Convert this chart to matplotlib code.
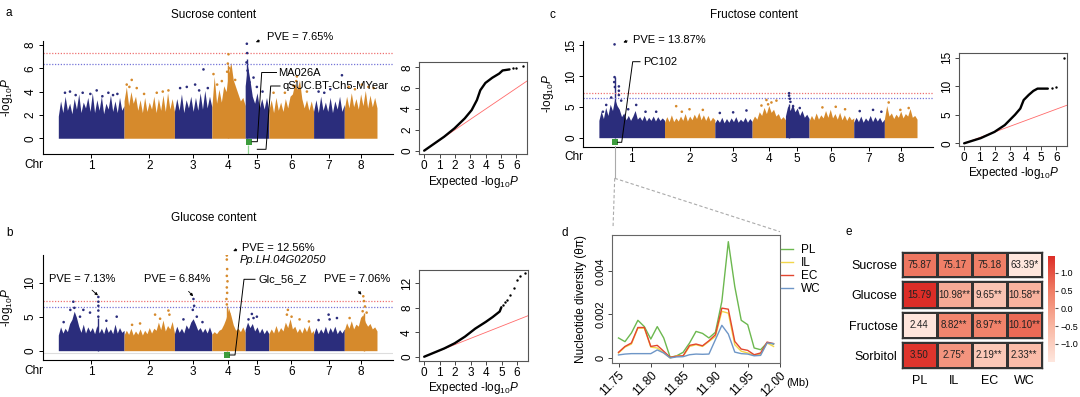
import numpy as np
import matplotlib
matplotlib.use('Agg')
import matplotlib.pyplot as plt
from matplotlib.colors import LinearSegmentedColormap, Normalize
from matplotlib.cm import ScalarMappable
from matplotlib.lines import Line2D
from matplotlib.patches import FancyArrowPatch

plt.rcParams['font.family'] = ['Liberation Sans', 'DejaVu Sans']
plt.rcParams['mathtext.fontset'] = 'custom'
plt.rcParams['mathtext.rm'] = 'Liberation Sans'
plt.rcParams['mathtext.it'] = 'Liberation Sans:italic'
plt.rcParams['axes.linewidth'] = 0.8

# ---- chromosomes (Mb) ----
chr_names = ['1', '2', '3', '4', '5', '6', '7', '8']
chr_len = np.array([49.25, 37.75, 28.0, 25.0, 17.75, 33.5, 23.0, 24.5])
chr_colors = ['#2b2d7c', '#d68a2c']

# upper edge of the dense SNP cloud, evenly spaced along each chromosome
sucrose_env = [
    [1.9, 3.2, 2.2, 3.6, 2.4, 3.0, 2.1, 3.4, 2.5, 3.8, 2.2, 3.1, 2.6, 3.5, 2.3, 3.9, 2.2, 3.3, 2.4, 3.6, 2.1, 3.0, 2.5, 3.7, 2.3, 3.2, 2.2, 3.5, 2.4, 2.8],
    [3.2, 4.4, 2.8, 4.0, 3.0, 3.6, 2.4, 3.3, 2.2, 3.5, 2.3, 3.1, 2.5, 3.6, 2.2, 3.4, 2.4, 3.7, 2.3, 3.9, 2.5, 3.4, 2.3],
    [2.3, 3.4, 2.4, 3.8, 2.2, 3.3, 2.6, 3.6, 2.3, 3.5, 2.4, 3.9, 2.5, 4.1, 2.6, 3.6, 2.7],
    [2.6, 5.3, 3.0, 4.2, 3.1, 4.5, 4.0, 5.6, 6.5, 5.0, 4.4, 3.8, 3.2, 3.5, 2.8],
    [4.5, 6.2, 5.0, 3.6, 3.0, 3.9, 2.6, 3.4, 2.5, 3.5, 2.4],
    [2.4, 3.3, 2.2, 3.5, 2.4, 3.1, 2.3, 3.4, 2.6, 3.6, 3.8, 4.7, 4.2, 5.0, 3.4, 2.6, 3.3, 2.4, 3.2, 2.3],
    [2.3, 3.3, 2.2, 3.6, 2.4, 3.1, 2.3, 3.5, 2.2, 3.2, 2.5, 3.6, 2.3, 2.9],
    [2.5, 3.6, 2.6, 3.9, 2.7, 3.4, 2.5, 3.8, 2.8, 4.1, 2.6, 3.7, 2.7, 3.5, 2.6],
]
glucose_env = [
    [2.3, 3.5, 2.6, 3.3, 2.8, 4.0, 4.6, 5.8, 4.9, 3.6, 2.7, 3.9, 2.6, 3.5, 2.8, 3.4, 2.5, 3.7, 2.6, 3.3, 2.5, 3.6, 2.7, 3.2, 2.5, 3.9, 2.6, 3.4, 2.7, 3.0],
    [2.3, 3.0, 2.4, 3.3, 2.3, 2.9, 2.4, 3.2, 2.3, 3.0, 2.5, 3.4, 2.6, 3.3, 3.0, 4.2, 3.1, 4.5, 2.9, 3.7, 3.2, 4.3, 2.6],
    [2.5, 3.6, 2.7, 3.3, 2.6, 3.8, 3.2, 4.2, 4.7, 3.9, 3.0, 3.4, 2.7, 3.3, 2.6, 3.5, 2.5],
    [2.4, 2.8, 2.5, 3.0, 3.2, 3.9, 4.8, 6.3, 5.2, 3.8, 3.0, 3.3, 2.8, 3.5, 2.7],
    [3.1, 4.2, 3.4, 4.0, 2.9, 3.5, 2.6, 3.3, 2.5, 3.1, 2.5],
    [2.5, 3.2, 2.6, 3.7, 2.7, 3.4, 2.9, 4.2, 3.4, 4.7, 3.2, 3.6, 2.7, 3.3, 2.6, 3.5, 2.8, 3.8, 2.6, 3.0],
    [2.4, 3.4, 2.5, 3.2, 2.6, 3.6, 2.5, 3.4, 2.7, 3.6, 2.5, 3.1, 2.6, 3.2],
    [3.0, 4.1, 3.3, 4.4, 3.2, 3.9, 3.6, 4.9, 5.3, 4.2, 3.6, 4.0, 3.2, 3.5, 2.9],
]
fructose_env = [
    [2.8, 4.3, 3.1, 4.9, 3.6, 5.4, 4.4, 6.3, 5.2, 4.6, 3.4, 4.0, 2.9, 3.6, 2.8, 3.5, 4.4, 3.0, 3.4, 2.8, 3.6, 2.7, 3.3, 2.8, 3.5, 2.7, 3.4, 2.8, 3.2, 2.8],
    [2.5, 3.4, 2.6, 3.7, 2.6, 3.2, 2.7, 3.5, 2.8, 3.9, 2.7, 3.5, 2.9, 3.8, 3.1, 4.1, 2.9, 3.7, 2.8, 3.6, 2.7, 3.3, 2.9],
    [2.4, 3.0, 2.5, 3.3, 2.4, 3.1, 2.5, 3.2, 2.6, 3.4, 2.5, 3.0, 2.6, 3.3, 2.5, 3.1, 2.6],
    [2.7, 3.5, 3.0, 4.2, 3.6, 4.9, 3.9, 5.2, 4.1, 4.6, 3.5, 3.9, 3.0, 3.4, 2.9],
    [3.5, 5.2, 4.4, 5.5, 4.2, 4.8, 3.6, 4.4, 3.3, 3.8, 3.1],
    [2.7, 3.6, 2.9, 4.0, 3.0, 3.7, 3.2, 4.4, 3.3, 4.6, 3.2, 3.9, 3.0, 4.1, 2.9, 3.7, 2.8, 3.5, 2.9, 3.2],
    [2.5, 3.3, 2.6, 3.5, 2.5, 3.2, 2.7, 3.6, 2.6, 3.4, 2.7, 3.3, 2.5, 3.0],
    [3.0, 5.2, 3.5, 4.0, 3.1, 3.8, 3.3, 4.3, 3.2, 3.9, 3.5, 4.7, 3.3, 3.6, 3.0],
]

# single SNPs above the cloud: (chr, Mb, -log10P)
sucrose_dots = [(1, 5.0, 3.9), (1, 8.75, 4.0), (1, 18.25, 3.9), (1, 28.75, 4.1), (1, 37.5, 3.9), (1, 44.25, 3.8),
                (1, 13.0, 3.7), (1, 24.0, 3.8), (1, 33.0, 3.6), (1, 41.0, 3.7),
                (2, 5.75, 5.0), (2, 4.0, 4.4), (2, 9.5, 4.3), (2, 24.5, 3.9), (2, 33.25, 4.1), (2, 2.0, 4.6),
                (2, 15.0, 3.8), (2, 29.0, 4.0),
                (3, 4.25, 4.3), (3, 15.5, 4.6), (3, 21.75, 5.9), (3, 9.25, 4.4), (3, 18.5, 4.1), (3, 25.0, 4.3),
                (4, 12.5, 7.2), (4, 12.0, 6.4), (4, 13.0, 6.0), (4, 1.25, 5.5), (4, 7.5, 4.9), (4, 17.5, 5.0),
                (4, 11.5, 5.7), (4, 14.0, 5.4), (4, 4.0, 4.6),
                (5, 1.25, 8.1), (5, 1.5, 7.3), (5, 1.0, 6.5), (5, 1.75, 5.8), (5, 6.25, 5.2), (5, 8.75, 4.4), (5, 3.25, 4.8),
                (5, 13.0, 4.0),
                (6, 21.0, 5.3), (6, 20.5, 4.9), (6, 3.5, 3.9), (6, 28.5, 4.0), (6, 12.0, 3.9), (6, 18.5, 4.5),
                (7, 21.25, 5.4), (7, 3.75, 4.0), (7, 12.5, 4.2), (7, 8.0, 3.9),
                (8, 3.25, 4.4), (8, 13.25, 4.6), (8, 22.0, 4.3), (8, 8.0, 4.2), (8, 18.0, 4.4)]
glucose_dots = [(1, 11.25, 7.2), (1, 12.0, 6.3), (1, 18.75, 6.0), (1, 23.75, 5.6), (1, 30.0, 7.9), (1, 30.0, 7.2),
                (1, 30.0, 6.6), (1, 30.0, 5.9), (1, 30.0, 5.0), (1, 43.75, 5.0), (1, 16.25, 5.0), (1, 9.0, 6.0),
                (1, 36.0, 4.4), (1, 4.0, 4.2),
                (2, 23.25, 5.3), (2, 33.25, 5.9), (2, 34.0, 5.3), (2, 12.0, 4.0), (2, 27.0, 4.7), (2, 6.0, 3.8),
                (3, 14.25, 7.6), (3, 14.75, 6.6), (3, 13.75, 6.0), (3, 16.75, 5.0), (3, 6.75, 4.6), (3, 21.0, 4.2),
                (4, 11.25, 14.0), (4, 11.25, 13.4), (4, 11.5, 12.0), (4, 11.25, 11.0), (4, 11.75, 10.2),
                (4, 11.25, 9.3), (4, 11.5, 8.5), (4, 11.0, 7.6), (4, 11.25, 6.8), (4, 13.0, 5.4),
                (5, 5.0, 5.4), (5, 8.75, 5.0), (5, 6.25, 4.8), (5, 2.5, 4.6),
                (6, 14.25, 6.0), (6, 13.5, 5.3), (6, 23.0, 4.6), (6, 17.0, 5.0), (6, 30.0, 4.3),
                (7, 11.25, 5.3), (7, 3.75, 4.5), (7, 17.5, 4.8), (7, 12.0, 4.6),
                (8, 14.25, 8.0), (8, 14.75, 7.3), (8, 15.5, 6.5), (8, 13.75, 5.8), (8, 16.75, 5.6), (8, 4.0, 4.8)]
fructose_dots = [(1, 11.75, 15.1), (1, 11.75, 9.8), (1, 11.5, 9.0), (1, 12.0, 8.2), (1, 15.0, 8.3), (1, 15.0, 7.6),
                 (1, 15.0, 6.9), (1, 9.25, 6.5), (1, 5.5, 5.3), (1, 3.0, 4.2), (1, 28.0, 5.3), (1, 43.0, 4.2),
                 (1, 16.75, 6.0), (1, 22.0, 4.6), (1, 35.0, 4.2),
                 (2, 8.75, 5.1), (2, 18.75, 4.6), (2, 28.75, 4.5), (2, 13.0, 4.2),
                 (3, 3.75, 4.0), (3, 13.75, 4.1), (3, 23.75, 4.4),
                 (4, 10.75, 6.1), (4, 14.5, 5.7), (4, 18.25, 6.0), (4, 7.0, 5.2), (4, 12.0, 5.4),
                 (5, 2.75, 7.2), (5, 2.75, 6.8), (5, 3.25, 6.3), (5, 3.75, 5.8), (5, 5.75, 5.1), (5, 10.75, 4.8),
                 (6, 10.0, 4.9), (6, 20.0, 5.0), (6, 27.0, 4.6),
                 (7, 4.5, 4.3), (7, 14.5, 4.5), (7, 20.75, 4.2),
                 (8, 3.25, 5.7), (8, 18.25, 4.8), (8, 12.0, 4.5)]
# dense peak columns: (chr, Mb, height)
sucrose_spikes = [(4, 12.5, 6.3), (5, 1.25, 6.8)]
glucose_spikes = [(4, 11.25, 6.5), (1, 30.0, 4.8), (8, 14.5, 5.5)]
fructose_spikes = [(1, 11.75, 9.8), (5, 3.0, 5.5)]
# QTL / marker squares: (chr, Mb, y)
sucrose_marks = [(5, 3.2, -0.3)]
glucose_marks = [(4, 11.25, -0.63)]
fructose_marks = [(1, 11.85, -0.76)]
thr_red, thr_blue = 7.3, 6.4

# ---- QQ curves ----
qq_a_exp = [0, 1.3, 1.97, 2.64, 3.09, 3.43, 3.65, 3.98, 4.43, 4.88, 5.1, 5.55]
qq_a_obs = [0, 1.34, 2.14, 3.1, 3.9, 4.86, 5.8, 6.5, 7.0, 7.4, 7.7, 7.8]
qq_a_tail_exp = [5.78, 6.0, 6.45]
qq_a_tail_obs = [7.9, 7.97, 8.13]
qq_b_exp = [0, 1.3, 1.97, 2.64, 3.3, 3.98, 4.43, 4.88, 4.99]
qq_b_obs = [0, 1.36, 2.2, 3.3, 4.6, 5.7, 6.5, 7.4, 8.1]
qq_b_tail_exp = [5.1, 5.2, 5.33, 5.55, 5.78, 6.0, 6.22, 6.49]
qq_b_tail_obs = [8.5, 8.9, 9.3, 10.1, 11.3, 12.5, 13.2, 13.7]
qq_c_exp = [0, 1.07, 1.97, 2.64, 3.3, 3.65, 3.87, 4.2, 4.5, 4.77, 5.44]
qq_c_obs = [0, 0.9, 2.0, 3.2, 5.0, 6.1, 7.6, 8.5, 9.2, 9.6, 9.6]
qq_c_tail_exp = [5.7, 6.0, 6.49]
qq_c_tail_obs = [9.65, 9.8, 15.06]

# ---- nucleotide diversity ----
pi_pos = [11.75, 11.76, 11.77, 11.78, 11.79, 11.80, 11.81, 11.82, 11.83, 11.84, 11.85, 11.86, 11.87,
          11.88, 11.89, 11.90, 11.91, 11.92, 11.93, 11.94, 11.95, 11.96, 11.97, 11.98, 11.99]
pi_PL = [0.00092, 0.00075, 0.00115, 0.00173, 0.00144, 0.00087, 0.00144, 0.00092, 0.00003, 0.0001, 0.00026, 0.00069,
         0.00122, 0.00113, 0.00092, 0.00118, 0.0026, 0.00534, 0.00328, 0.00173, 0.00153, 0.00046, 0.00038, 0.00069, 0.00064]
pi_IL = [0.00023, 0.0005, 0.00064, 0.00137, 0.00137, 0.0005, 0.00046, 0.00023, 0.0, 0.0001, 0.00008, 0.00053,
         0.00061, 0.00053, 0.00076, 0.00099, 0.00214, 0.00206, 0.00061, 0.00031, 0.00023, 0.00012, 0.00018, 0.00069, 0.00053]
pi_EC = [0.00026, 0.00053, 0.00069, 0.0014, 0.0014, 0.00053, 0.00058, 0.00031, 0.00003, 0.00008, 0.0001, 0.00058,
         0.00064, 0.00056, 0.00079, 0.00107, 0.00229, 0.00224, 0.00076, 0.00041, 0.00035, 0.00015, 0.00023, 0.00073, 0.00066]
pi_WC = [0.00014, 0.00018, 0.0002, 0.0002, 0.0002, 0.0002, 0.00037, 0.00023, 0.0, 0.00005, 0.00006, 0.00015,
         0.00018, 0.00017, 0.00018, 0.00084, 0.0015, 0.0011, 0.00027, 0.0002, 0.00018, 0.0001, 0.00012, 0.00069, 0.00066]

# ---- sugar heatmap ----
sugars = ['Sucrose', 'Glucose', 'Fructose', 'Sorbitol']
groups = ['PL', 'IL', 'EC', 'WC']
sugar_vals = np.array([[75.87, 75.17, 75.18, 63.39],
                       [15.79, 10.98, 9.65, 10.58],
                       [2.44, 8.82, 8.97, 10.10],
                       [3.50, 2.75, 2.19, 2.33]])
sugar_sig = [['', '', '', '*'],
             ['', '**', '**', '**'],
             ['', '**', '**', '**'],
             ['', '*', '**', '**']]

W, H = 1080, 397
fig = plt.figure(figsize=(W / 100, H / 100), dpi=100)


def box(x0, y0, x1, y1):
    return [x0 / W, 1 - y1 / H, (x1 - x0) / W, (y1 - y0) / H]


def fp(x, y):
    return (x / W, 1 - y / H)


def ftext(x, y, s, **kw):
    kw.setdefault('fontsize', 8)
    kw.setdefault('ha', 'left')
    kw.setdefault('va', 'center')
    fig.text(x / W, 1 - y / H, s, **kw)


def fline(xs, ys, **kw):
    kw.setdefault('color', 'black')
    kw.setdefault('lw', 0.7)
    fig.add_artist(Line2D([x / W for x in xs], [1 - y / H for y in ys], transform=fig.transFigure, **kw))


def farrow(x0, y0, x1, y1):
    fig.add_artist(FancyArrowPatch(fp(x0, y0), fp(x1, y1), transform=fig.transFigure,
                                   arrowstyle='-|>', mutation_scale=4, lw=0.6, color='black'))


chr_start = np.concatenate([[0], np.cumsum(chr_len)[:-1]])
total = chr_len.sum()
xpad = 11.7


def manhattan(ax, env, dots, spikes, marks, ylim, yticks):
    for i in range(len(chr_len)):
        xs = chr_start[i] + np.linspace(0, chr_len[i], len(env[i]))
        ax.fill_between(xs, 0, env[i], color=chr_colors[i % 2], lw=0)
    for c, p, h in spikes:
        ax.vlines(chr_start[c - 1] + p, 0, h, color=chr_colors[(c - 1) % 2], lw=1.0)
    ax.scatter([chr_start[c - 1] + p for c, p, v in dots], [v for c, p, v in dots], s=3.5, lw=0,
               c=[chr_colors[(c - 1) % 2] for c, p, v in dots], zorder=3)
    ax.scatter([chr_start[c - 1] + p for c, p, v in marks], [v for c, p, v in marks], marker='s', s=14,
               color='#3c9c3c', lw=0, zorder=4, clip_on=False)
    ax.axhline(thr_red, color='#ee7070', lw=0.9, ls=(0, (1, 1.3)))
    ax.axhline(thr_blue, color='#7474d8', lw=0.9, ls=(0, (1, 1.3)))
    ax.set_xlim(-xpad, total + xpad)
    ax.set_ylim(*ylim)
    ax.set_yticks(yticks)
    ax.set_yticklabels([str(t) for t in yticks], rotation=90, va='center', fontsize=8.5)
    ax.set_xticks(chr_start + chr_len / 2)
    ax.set_xticklabels(chr_names, fontsize=8.5)
    ax.tick_params(direction='out', length=3, width=0.7, pad=1.5)
    for s in ['top', 'right']:
        ax.spines[s].set_visible(False)
    ax.set_ylabel('-log$_{10}$$\\mathit{P}$', fontsize=8.5)
    ax.yaxis.set_label_coords(-0.078, 0.5)
    ax.text(-0.026, -0.045, 'Chr', transform=ax.transAxes, fontsize=8.5, ha='center', va='top')


def qq(ax, ex, ob, tx, to, ylim, yticks):
    ax.plot([0, 8], [0, 8], color='#ff6a6a', lw=0.6)
    ax.plot(ex, ob, color='black', lw=1.7, solid_capstyle='round')
    ax.scatter(tx, to, s=3, color='black', lw=0)
    ax.set_xlim(-0.31, 6.68)
    ax.set_ylim(*ylim)
    ax.set_xticks(range(7))
    ax.set_yticks(yticks)
    ax.set_yticklabels([str(t) for t in yticks], rotation=90, va='center', fontsize=8.5)
    ax.set_xticklabels([str(t) for t in range(7)], fontsize=8.5)
    ax.tick_params(direction='out', length=3, width=0.7, pad=1.5, color='#444')
    for s in ax.spines.values():
        s.set_color('#555555')
    ax.set_xlabel('Expected -log$_{10}$$\\mathit{P}$', fontsize=8.5, labelpad=1)


# ---- a ----
ax_a = fig.add_axes(box(42.7, 40.6, 392.6, 154))
manhattan(ax_a, sucrose_env, sucrose_dots, sucrose_spikes, sucrose_marks, (-1.35, 8.37), [0, 2, 4, 6, 8])
ax_a.vlines(chr_start[4] + 2.0, -1.35, -0.57, color='#8fd48f', lw=0.9, clip_on=False)
ax_aq = fig.add_axes(box(419.4, 61.7, 526.9, 154))
qq(ax_aq, qq_a_exp, qq_a_obs, qq_a_tail_exp, qq_a_tail_obs, (-0.32, 8.54), [0, 2, 4, 6, 8])

# ---- b ----
ax_b = fig.add_axes(box(42.7, 255, 392.6, 360))
ax_b.axhline(-0.38, color='#dddddd', lw=0.8)
manhattan(ax_b, glucose_env, glucose_dots, glucose_spikes, glucose_marks, (-1.37, 14.07), [0, 5, 10])
ax_bq = fig.add_axes(box(419.4, 270, 527.5, 360.7))
qq(ax_bq, qq_b_exp, qq_b_obs, qq_b_tail_exp, qq_b_tail_obs, (-0.65, 14.2), [0, 4, 8, 12])

# ---- c ----
ax_c = fig.add_axes(box(583.3, 41.3, 932.6, 146.7))
manhattan(ax_c, fructose_env, fructose_dots, fructose_spikes, fructose_marks, (-1.46, 15.6), [0, 5, 10, 15])
ax_cq = fig.add_axes(box(959.4, 53.3, 1066.9, 145.7))
qq(ax_cq, qq_c_exp, qq_c_obs, qq_c_tail_exp, qq_c_tail_obs, (-0.42, 15.8), [0, 5, 10, 15])

# ---- d ----
ax_d = fig.add_axes(box(612.3, 234.7, 780, 363))
pi_colors = ['#6cb84f', '#f2d64b', '#e2462f', '#6e96c7']
for vals, col, lab in zip([pi_PL, pi_IL, pi_EC, pi_WC], pi_colors, groups):
    ax_d.plot(pi_pos, vals, color=col, lw=1.0, label=lab)
ax_d.set_xlim(11.7404, 11.9996)
ax_d.set_ylim(-0.00023, 0.00566)
ax_d.set_xticks([11.75, 11.80, 11.85, 11.90, 11.95, 12.00])
ax_d.set_xticklabels(['11.75', '11.80', '11.85', '11.90', '11.95', '12.00'], rotation=45, ha='right',
                     rotation_mode='anchor', fontsize=8.5)
ax_d.set_yticks([0, 0.002, 0.004])
ax_d.set_yticklabels(['0', '0.002', '0.004'], rotation=90, va='center', fontsize=8)
ax_d.tick_params(direction='out', length=3, width=0.7, pad=1.5, color='#444')
for s in ax_d.spines.values():
    s.set_color('#666666')
ax_d.set_ylabel('Nucleotide diversity (θπ)', fontsize=8.5)
ax_d.yaxis.set_label_coords(-0.153, 0.5)
ax_d.legend(loc='upper left', bbox_to_anchor=fp(781, 244), bbox_transform=fig.transFigure, frameon=False,
            fontsize=8.5, handlelength=1.0, handletextpad=0.7, labelspacing=0.08, borderpad=0, borderaxespad=0)
ftext(786.7, 382.7, '(Mb)', fontsize=8)

# ---- e ----
z = (sugar_vals - sugar_vals.mean(axis=1, keepdims=True)) / sugar_vals.std(axis=1, ddof=1, keepdims=True)
cmap = LinearSegmentedColormap.from_list('sug', ['#fee6dd', '#f9b7a3', '#f07e66', '#dc2d27'])
norm = Normalize(z.min(), z.max())
rows_y = [(251.7, 277.3), (281, 308.3), (311.7, 338.3), (341.7, 368.3)]
for i, name in enumerate(sugars):
    ax = fig.add_axes(box(901.7, rows_y[i][0], 1041.7, rows_y[i][1]))
    ax.pcolormesh(np.arange(len(groups) + 1), [0, 1], z[i:i + 1], cmap=cmap, norm=norm,
                  edgecolors='#333333', linewidth=0.8)
    for j in range(len(groups)):
        ax.text(j + 0.5, 0.5, f'{sugar_vals[i, j]:.2f}{sugar_sig[i][j]}', ha='center', va='center', fontsize=7,
                color='#222222')
    ax.set_xlim(0, len(groups))
    ax.set_ylim(0, 1)
    ax.set_yticks([0.5])
    ax.set_yticklabels([name], fontsize=9)
    ax.tick_params(length=0, pad=3)
    if i == len(sugars) - 1:
        ax.set_xticks(np.arange(len(groups)) + 0.5)
        ax.set_xticklabels(groups, fontsize=9)
        ax.tick_params(axis='x', pad=5)
    else:
        ax.set_xticks([])
    for s in ax.spines.values():
        s.set_color('#333333')
        s.set_linewidth(1.0)
cax = fig.add_axes(box(1048.3, 256, 1055, 361.7))
cb = fig.colorbar(ScalarMappable(norm=norm, cmap=cmap), cax=cax)
cb.outline.set_visible(False)
cb.set_ticks([-1, -0.5, 0, 0.5, 1])
cb.set_ticklabels(['\u22121.0', '\u22120.5', '0.0', '0.5', '1.0'])
cax.tick_params(length=2.5, width=0.8, color='#555555', labelsize=6.5, pad=1.5)

# ---- titles, panel letters, annotations ----
for x, y, s in [(6, 13.3, 'a'), (6, 233.3, 'b'), (550, 15, 'c'), (562, 233.3, 'd'), (845, 232, 'e')]:
    ftext(x, y, s, fontsize=8.5)
for x, y, s in [(213.5, 15, 'Sucrose content'), (213.5, 218.3, 'Glucose content'), (754, 15, 'Fructose content')]:
    ftext(x, y, s, fontsize=8.5, ha='center')

ftext(266.7, 37.3, 'PVE = 7.65%')
farrow(262, 39.5, 253.3, 43.3)
ftext(278.3, 72.7, 'MA026A')
fline([276.5, 261.7, 257.3, 252], [72.5, 72.5, 141.7, 141.7])
ftext(282.7, 86, 'qSUC.BT-Ch5-MYear')
fline([280, 270.7, 266, 257.3], [86, 86, 149.3, 149.3])

ftext(49.3, 279.3, 'PVE = 7.13%')
farrow(90, 288.3, 100, 297.3)
ftext(144.3, 279.3, 'PVE = 6.84%')
farrow(186.7, 289.3, 195, 298.3)
ftext(241.7, 247.7, 'PVE = 12.56%')
farrow(239.3, 248.3, 230.7, 252.3)
ftext(239.3, 260, 'Pp.LH.04G02050', style='italic')
ftext(258.3, 279.3, 'Glc_56_Z')
fline([255, 244, 235, 230], [279.3, 279.3, 355, 355])
ftext(324, 279.3, 'PVE = 7.06%')
farrow(356.7, 289.3, 363.3, 296.7)

ftext(633.3, 40, 'PVE = 13.87%')
farrow(630, 40, 620.7, 43.3)
ftext(642.7, 61.7, 'PC102')
fline([640, 632.7, 621.7, 617.5], [61.7, 61.7, 142.3, 142.3])

# zoom connector from c to d
fline([614.7, 614.7], [145.5, 178.3], color='#aaaaaa', lw=0.8)
fline([614.7, 613], [178.3, 228.3], color='#aaaaaa', lw=0.8, ls=(0, (3, 2)))
fline([614.7, 780], [178.3, 231.7], color='#aaaaaa', lw=0.8, ls=(0, (3, 2)))

fig.savefig('out.png', dpi=100)
